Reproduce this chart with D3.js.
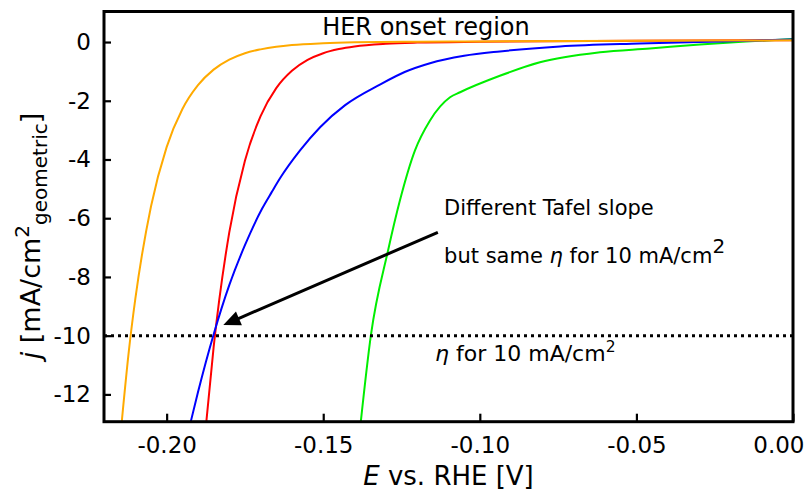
<!DOCTYPE html>
<html><head><meta charset="utf-8">
<script src="https://cdn.jsdelivr.net/npm/d3@7"></script>
<style>body{margin:0;background:#fff}svg{display:block}text{font-family:"DejaVu Sans",sans-serif}</style>
</head><body><svg id="c" width="805" height="490"></svg>
<script>
// ---- data (E in V vs RHE, j in mA/cm^2) ----
const orangeE = [-0.2143,-0.212,-0.210,-0.205,-0.200,-0.195,-0.190,-0.185,-0.180,-0.175,-0.170,-0.165,-0.160,-0.150,-0.140,-0.120,-0.100,-0.050,0.000];
const orangeJ = [-12.9,-10.46,-8.75,-5.60,-3.58,-2.29,-1.47,-0.94,-0.60,-0.38,-0.25,-0.16,-0.10,-0.04,-0.01,0.01,0.02,0.04,0.06];
const redE = [-0.1873,-0.185,-0.180,-0.175,-0.170,-0.165,-0.160,-0.155,-0.150,-0.145,-0.140,-0.130,-0.120,-0.100,-0.050,0.000];
const redJ = [-12.9,-10.4,-6.48,-4.04,-2.52,-1.57,-0.98,-0.61,-0.38,-0.24,-0.15,-0.06,-0.02,0.01,0.04,0.06];
const blueE = [-0.1923,-0.190,-0.185,-0.180,-0.175,-0.1695,-0.1665,-0.1638,-0.1574,-0.151,-0.143,-0.1319,-0.124,-0.1159,-0.105,-0.0936,-0.0744,-0.0489,-0.0233,0.000];
const blueJ = [-12.93,-11.93,-9.96,-8.28,-6.92,-5.67,-5.12,-4.64,-3.69,-2.90,-2.15,-1.45,-1.02,-0.72,-0.47,-0.32,-0.15,-0.05,0.02,0.09];
const greenE = [-0.138,-0.1348,-0.1293,-0.1255,-0.1207,-0.1159,-0.1095,-0.1063,-0.0936,-0.0808,-0.0616,-0.0457,-0.0297,-0.015,0.000];
const greenJ = [-12.93,-10,-7.1,-5.39,-3.69,-2.67,-1.88,-1.71,-1.15,-0.69,-0.35,-0.22,-0.08,0.02,0.1];
const xTicks = [-0.20,-0.15,-0.10,-0.05,0.00];
const xTickLabels = ["-0.20","-0.15","-0.10","-0.05","0.00"];
const yTicks = [0,-2,-4,-6,-8,-10,-12];
const yTickLabels = ["0","-2","-4","-6","-8","-10","-12"];
const refJ = -10;
const arrowFrom = [-0.1134,-6.48];
const arrowTo = [-0.1819,-9.64];

const series = [
  {E: greenE, J: greenJ, color: "#00ee00"},
  {E: redE, J: redJ, color: "#ff0000"},
  {E: blueE, J: blueJ, color: "#0000ff"},
  {E: orangeE, J: orangeJ, color: "#ffaa00"}
];

const svg = d3.select("#c");
const L = 104, R = 793, T = 11.5, B = 421.7;
const x = d3.scaleLinear().domain([-0.22, 0.0]).range([L, R]);
const y = d3.scaleLinear().domain([-12.93, 1.04]).range([B, T]);

svg.append("defs").append("clipPath").attr("id","clip")
  .append("rect").attr("x",L).attr("y",T).attr("width",R-L).attr("height",B-T);

const line = d3.line().x(d=>x(d[0])).y(d=>y(d[1])).curve(d3.curveMonotoneX);
const g = svg.append("g").attr("clip-path","url(#clip)");
series.forEach(s=>{
  g.append("path").datum(s.E.map((e,i)=>[e,s.J[i]]))
    .attr("d",line).attr("fill","none").attr("stroke",s.color).attr("stroke-width",2);
});

// dotted reference line
g.append("line").attr("x1",x(-0.22)).attr("x2",x(0)).attr("y1",y(refJ)).attr("y2",y(refJ))
  .attr("stroke","#000").attr("stroke-width",3).attr("stroke-dasharray","3,4");

// arrow
const ax0 = x(arrowFrom[0]), ay0 = y(arrowFrom[1]), ax1 = x(arrowTo[0]), ay1 = y(arrowTo[1]);
const ang = Math.atan2(ay1-ay0, ax1-ax0);
const hl = 17, hw = 7.5;
const bx = ax1 - hl*Math.cos(ang), by = ay1 - hl*Math.sin(ang);
svg.append("line").attr("x1",ax0).attr("y1",ay0).attr("x2",bx+3*Math.cos(ang)).attr("y2",by+3*Math.sin(ang))
  .attr("stroke","#000").attr("stroke-width",3);
svg.append("path").attr("d",`M${ax1},${ay1}L${bx - hw*Math.sin(ang)},${by + hw*Math.cos(ang)}L${bx + hw*Math.sin(ang)},${by - hw*Math.cos(ang)}Z`)
  .attr("fill","#000");

// axes
const xa = svg.append("g").attr("transform",`translate(0,${B})`)
  .call(d3.axisBottom(x).tickValues(xTicks).tickFormat((d,i)=>xTickLabels[i]).tickSizeInner(-8).tickSizeOuter(0).tickPadding(15));
const ya = svg.append("g").attr("transform",`translate(${L},0)`)
  .call(d3.axisLeft(y).tickValues(yTicks).tickFormat((d,i)=>yTickLabels[i]).tickSizeInner(-7).tickSizeOuter(0).tickPadding(13));
[xa,ya].forEach(a=>{
  a.select(".domain").remove();
  a.selectAll(".tick line").attr("stroke","#000").attr("stroke-width",2.2);
  a.selectAll(".tick text").attr("fill","#000").style("font-size","23px").style("font-family","DejaVu Sans");
});
xa.selectAll(".tick text").filter((d,i)=>i===xTicks.length-1)
  .attr("text-anchor","end").attr("x", 805-1-R);

// frame
svg.append("rect").attr("x",L).attr("y",T).attr("width",R-L).attr("height",B-T)
  .attr("fill","none").attr("stroke","#000").attr("stroke-width",3);

// axis titles
const xt = svg.append("text").attr("x",(L+R)/2).attr("y",485).attr("text-anchor","middle").style("font-size","26px");
xt.append("tspan").style("font-style","italic").text("E");
xt.append("tspan").text(" vs. RHE [V]");

const yt = svg.append("text").attr("transform","translate(40,236) rotate(-90)").attr("text-anchor","middle").style("font-size","27px");
yt.append("tspan").style("font-style","italic").text("j");
yt.append("tspan").text(" [mA/cm");
yt.append("tspan").attr("dy",-11).style("font-size","20px").text("2");
yt.append("tspan").attr("dy",18).style("font-size","20px").text("geometric");
yt.append("tspan").attr("dy",-7).text("]");

// annotations
svg.append("text").attr("x",x(-0.1172)).attr("y",y(0.23)).attr("text-anchor","middle").style("font-size","24px").text("HER onset region");
svg.append("text").attr("x",x(-0.1114)).attr("y",y(-5.9)).style("font-size","21px").text("Different Tafel slope");
const t2 = svg.append("text").attr("x",x(-0.1114)).attr("y",y(-7.53)).style("font-size","21px");
t2.append("tspan").text("but same ");
t2.append("tspan").style("font-style","italic").text("η");
t2.append("tspan").text(" for 10 mA/cm");
t2.append("tspan").attr("dy",-10).style("font-size","20px").text("2");
const t3 = svg.append("text").attr("x",x(-0.1143)).attr("y",y(-10.85)).style("font-size","22px");
t3.append("tspan").style("font-style","italic").text("η");
t3.append("tspan").text(" for 10 mA/cm");
t3.append("tspan").attr("dy",-9).style("font-size","15.5px").text("2");
</script></body></html>
